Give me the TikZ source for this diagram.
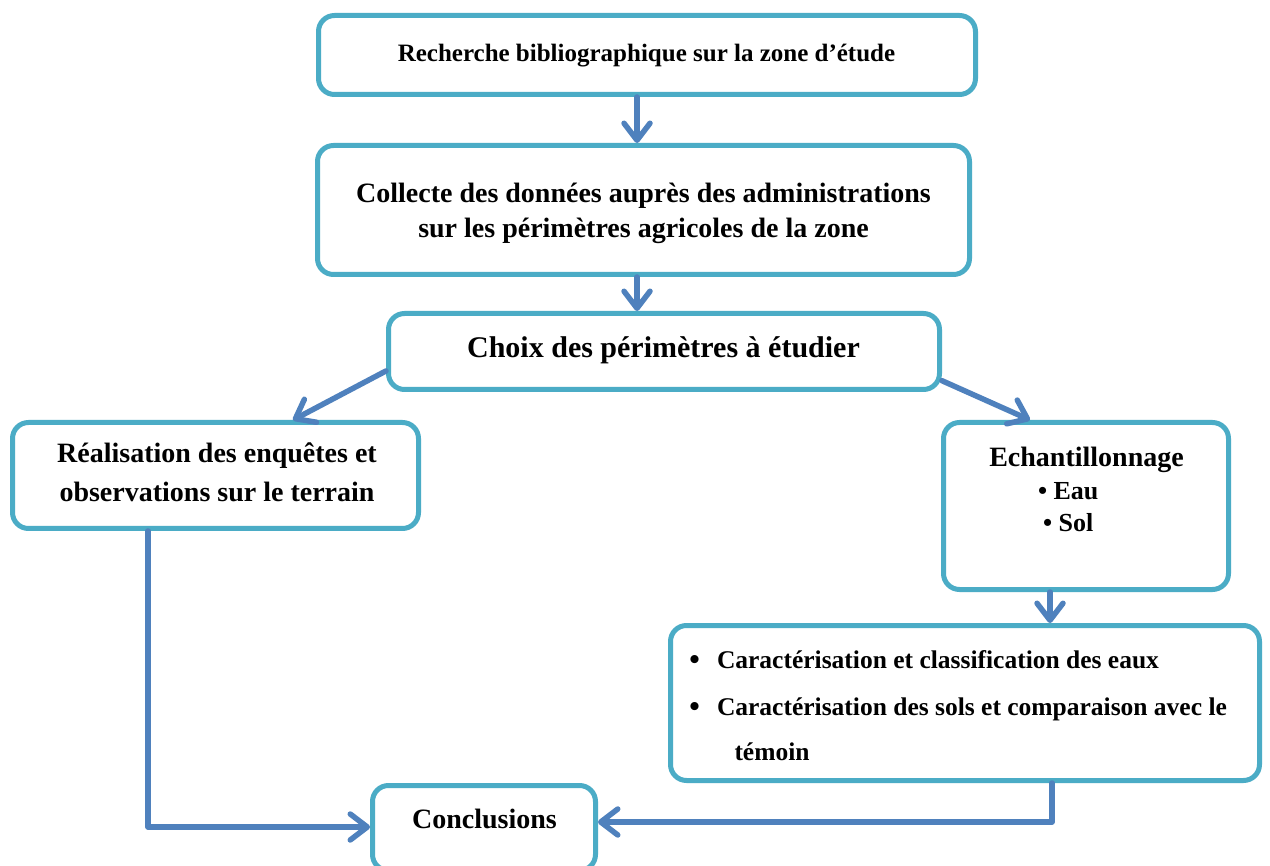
\documentclass[tikz,border=0pt]{standalone}
\usepackage{fontspec}
\setmainfont{Liberation Serif}
\usetikzlibrary{arrows.meta,calc}
\definecolor{boxc}{HTML}{4BACC6}
\definecolor{arrc}{HTML}{4F81BD}
\begin{document}
\begin{tikzpicture}[x=1pt,y=-1pt,
  box/.style={draw=boxc, line width=5pt, rounded corners=16pt, fill=white, inner sep=0pt, outer sep=2.5pt},
  txt/.style={anchor=base, inner sep=0pt, outer sep=0pt, font=\bfseries\fontsize{#1}{#1}\selectfont},
  txtl/.style={anchor=base west, inner sep=0pt, outer sep=0pt, font=\bfseries\fontsize{#1}{#1}\selectfont},
  arr/.style={draw=arrc, line width=5.5pt, line cap=round, line join=round,
    -{Straight Barb[length=17pt,width=26pt,line cap=round,line join=round]}}]
\useasboundingbox (0,0) rectangle (1270,866);
\fill[white] (0,0) rectangle (1270,866);

% boxes
\node[box, minimum width=657pt, minimum height=79pt] (b1) at (647,55) {};
\node[box, minimum width=652pt, minimum height=129pt] (b2) at (643.5,210) {};
\node[box, minimum width=551pt, minimum height=76pt] (b3) at (664,351.5) {};
\node[box, minimum width=406pt, minimum height=106pt] (b4) at (215.5,475.5) {};
\node[box, minimum width=285pt, minimum height=167pt] (b5) at (1086,506) {};
\node[box, minimum width=589pt, minimum height=155pt] (b6) at (965,703) {};
\node[box, minimum width=223pt, minimum height=85pt] (b7) at (484,828) {};

% texts
\node[txt=25] (t1) at (646.5,62) {Recherche bibliographique sur la zone d’étude};
\node[txt=28] (t2a) at (643.5,203) {Collecte des données auprès des administrations};
\node[txt=28] (t2b) at (643.5,238) {sur les périmètres agricoles de la zone};
\node[txt=30] (t3) at (663.5,358) {Choix des périmètres à étudier};
\node[txt=28] (t4a) at (217,463) {Réalisation des enquêtes et};
\node[txt=28] (t4b) at (217,502) {observations sur le terrain};
\node[txt=28] (t5) at (1086.5,467) {Echantillonnage};
\node[txtl=26] (t5a) at (1038,500) {• Eau};
\node[txtl=26] (t5b) at (1043,532) {• Sol};
\node[txt=30] (t6d1) at (694.5,669) {•};
\node[txtl=25.5] (t6a) at (717,668) {Caractérisation et classification des eaux};
\node[txt=30] (t6d2) at (694.5,716) {•};
\node[txtl=25.5] (t6b) at (717,715) {Caractérisation des sols et comparaison avec le};
\node[txtl=25.5] (t6c) at (734.5,760) {témoin};
\node[txt=28] (t7) at (484.5,828) {Conclusions};

% connectors
\coordinate (p1) at ([xshift=-10pt]b1.south);
\draw[arr] (p1) -- (p1 |- b2.north);
\coordinate (p2) at ([xshift=-6.5pt]b2.south);
\draw[arr] (p2) -- (p2 |- b3.north);
\draw[arr] (b3.184) -- ([xshift=77.5pt]b4.north);
\draw[arr] (b3.-6.3) -- ([xshift=-56pt]b5.north);
\coordinate (p5) at ([xshift=-36pt]b5.south);
\draw[arr] (p5) -- (p5 |- b6.north);
\coordinate (p4) at ([xshift=-67.5pt]b4.south);
\draw[arr] (p4) |- ([yshift=1pt]b7.west);
\coordinate (p6) at ([xshift=87pt]b6.south);
\draw[arr] (p6) |- ([yshift=6pt]b7.east);
\end{tikzpicture}
\end{document}
